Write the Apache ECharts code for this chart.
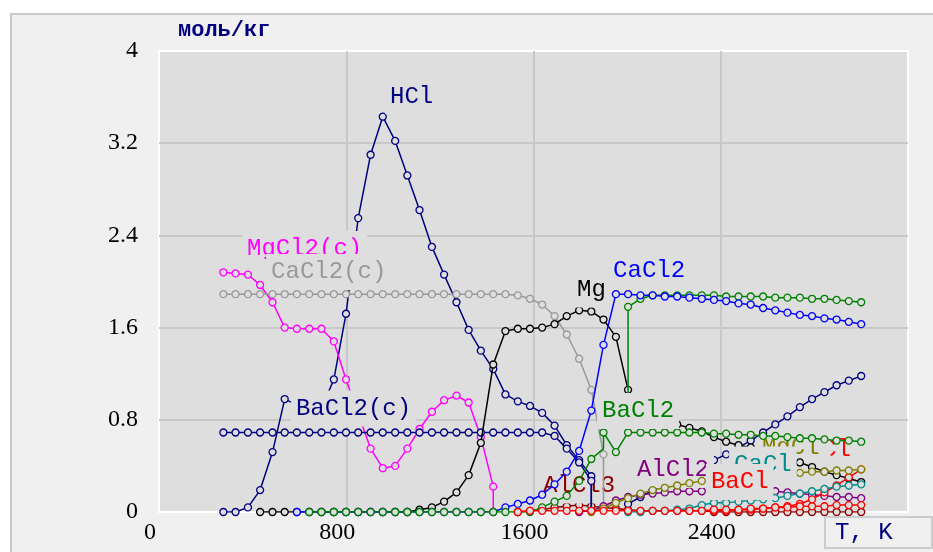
<!DOCTYPE html>
<html><head><meta charset="utf-8">
<script src="https://cdn.jsdelivr.net/npm/echarts@6/dist/echarts.min.js"></script>
<style>
html,body{margin:0;padding:0;background:#fff;}
#panel{position:absolute;left:10px;top:13px;width:921px;height:537px;background:#f0f0f0;border-top:2px solid #c8c8c8;border-left:2px solid #c8c8c8;}
#chart{position:absolute;left:0;top:0;width:933px;height:552px;}
</style></head><body>
<div id="panel"></div><div id="chart"></div>
<script>
const _ = null;
// Temperatures, K
const T = [275,327,380,432,485,537,589,642,694,747,799,851,904,956,1009,1061,1113,1166,1218,1271,1323,1375,1428,1480,1533,1585,1637,1690,1742,1795,1847,1899,1952,2004,2057,2109,2161,2214,2266,2319,2371,2423,2476,2528,2581,2633,2685,2738,2790,2843,2895,2947,3000];
// mol/kg
const HCl = [0,0,0.04,0.19,0.52,0.98,0.93,0.9,0.9,1.15, 1.72,2.55,3.1,3.43,3.22,2.92,2.62,2.3,2.06,1.82, 1.58,1.4,1.24,1.02,0.96,0.92,0.86,0.75,0.58,0.45, 0.31,_,_,0.07,0.13,0.19,0.25,0.3,0.35,0.4, 0.45,0.5,0.56,0.62,0.69,0.76,0.83,0.91,0.98,1.04, 1.1,1.14,1.18];
const MgCl2c = [2.08,2.07,2.06,1.97,1.82,1.6,1.59,1.59,1.59,1.48, 1.15,0.85,0.55,0.38,0.4,0.55,0.72,0.87,0.97,1.01, 0.95,0.65,0.22,_,_,_,_,_,_,_, _,_,_,_,_,_,_,_,_,_, _,_,_,_,_,_,_,_,_,_, _,_,_];
const CaCl2c = [1.89,1.89,1.89,1.89,1.89,1.89,1.89,1.89,1.89,1.89, 1.89,1.89,1.89,1.89,1.89,1.89,1.89,1.89,1.89,1.89, 1.89,1.89,1.89,1.89,1.88,1.85,1.8,1.7,1.54,1.33, 1.06,0.5,_,_,_,_,_,_,_,_, _,_,_,_,_,_,_,_,_,_, _,_,_];
const BaCl2c = [0.69,0.69,0.69,0.69,0.69,0.69,0.69,0.69,0.69,0.69, 0.69,0.69,0.69,0.69,0.69,0.69,0.69,0.69,0.69,0.69, 0.69,0.69,0.69,0.69,0.69,0.69,0.69,0.66,0.55,0.43, 0.27,_,_,_,_,_,_,_,_,_, _,_,_,_,_,_,_,_,_,_, _,_,_];
const Mg = [_,_,_,0,0,0,0,0,0,0, 0,0,0,0,0,0,0.02,0.04,0.09,0.17, 0.32,0.6,1.28,1.57,1.59,1.59,1.6,1.63,1.7,1.75, 1.74,1.67,1.52,1.06,0.9,0.83,0.79,0.76,0.73,0.7, 0.65,0.61,0.58,0.56,0.53,0.5,0.47,0.43,0.39,0.35, 0.32,0.29,0.26];
const GreenUp = [_,_,_,_,_,_,_,_,_,_, _,_,_,_,_,_,_,_,_,_, _,_,_,_,_,_,_,_,_,_, _,_,_,1.78,1.85,1.88,1.88,1.88,1.88,1.88, 1.88,1.87,1.87,1.87,1.87,1.86,1.86,1.86,1.85,1.85, 1.84,1.83,1.82];
const CaCl2 = [_,_,_,_,_,_,0,0,0,0, 0,0,0,0,0,0,0,0,0,0, 0,0,0,0.04,0.07,0.1,0.15,0.24,0.35,0.53, 0.88,1.45,1.89,1.89,1.88,1.88,1.87,1.87,1.86,1.85, 1.84,1.83,1.81,1.8,1.77,1.75,1.73,1.71,1.7,1.68, 1.67,1.65,1.63];
const BaCl2 = [_,_,_,_,_,_,_,0,0,0, 0,0,0,0,0,0,0,0,0,0, 0,0,0,0,0,0,0.04,0.09,0.14,0.27, 0.46,0.69,0.52,0.69,0.69,0.69,0.69,0.69,0.69,0.69, 0.68,0.68,0.67,0.67,0.66,0.66,0.65,0.64,0.64,0.63, 0.62,0.62,0.61];
const AlCl3 = [_,_,_,_,_,_,_,_,_,_, _,_,_,_,_,_,_,_,_,_, _,_,_,_,0,0.01,0.02,0.04,0.05,0.06, 0.05,0.04,0.03,0.02,0.01,0.01,0.01,0.01,0.01,0.01, 0,0,0,0,0,0,0,0,0,0, 0,0,0];
const AlCl2 = [_,_,_,_,_,_,_,_,_,_, _,_,_,_,_,_,_,_,_,_, _,_,_,_,_,_,_,_,_,0, 0.01,0.05,0.1,0.13,0.15,0.16,0.17,0.18,0.18,0.18, 0.18,0.18,0.18,0.18,0.18,0.18,0.17,0.16,0.15,0.14, 0.13,0.13,0.12];
const Cl = [_,_,_,_,_,_,_,_,_,_, _,_,_,_,_,_,_,_,_,_, _,_,_,_,_,_,_,_,_,_, _,_,_,_,_,_,_,_,_,_, 0.01,0.01,0.02,0.02,0.03,0.04,0.05,0.07,0.11,0.17, 0.23,0.3,0.37];
const MgCl = [_,_,_,_,_,_,_,_,_,_, _,_,_,_,_,_,_,_,_,_, _,_,_,_,_,_,_,_,_,_, 0,0.03,0.08,0.12,0.16,0.19,0.21,0.23,0.25,0.27, 0.28,0.29,0.3,0.31,0.32,0.33,0.33,0.34,0.35,0.35, 0.36,0.36,0.37];
const CaCl = [_,_,_,_,_,_,_,_,_,_, _,_,_,_,_,_,_,_,_,_, _,_,_,_,_,_,_,_,_,_, _,_,_,0,0,0.01,0.01,0.02,0.03,0.06, 0.08,0.08,0.09,0.1,0.11,0.12,0.14,0.16,0.18,0.2, 0.22,0.23,0.24];
const BaCl = [_,_,_,_,_,_,_,_,_,_, _,_,_,_,_,_,_,_,_,_, _,_,_,_,0,0.01,0.01,0.01,0.01,0.01, 0.01,0.01,0.01,0.01,0.01,0.01,0.01,0.01,0.01,0.01, 0.02,0.02,0.02,0.03,0.03,0.04,0.04,0.05,0.05,0.05, 0.06,0.06,0.06];

// axis ticks
const xTicks = [0,800,1600,2400,3200];
const yTicks = [0,0.8,1.6,2.4,3.2,4];

// curve labels: text, anchor T, anchor value (left edge / middle of the text)
const labelText = ['HCl','MgCl2(c)','CaCl2(c)','BaCl2(c)','Mg','CaCl2','BaCl2','AlCl3','AlCl2','MgCl','CaCl','BaCl','Cl'];
const labelT    = [987,376,479,585,1786,1940,1893,1641,2042,2576,2457,2358,2833];
const labelV    = [3.59,2.265,2.065,0.881,1.913,2.078,0.859,0.213,0.347,0.538,0.395,0.243,0.525];

const defs = [
  {name:'AlCl3', vals:AlCl3, color:'#8b0000'},
  {name:'HCl', vals:HCl, color:'#000080', drop:{30:0}},
  {name:'MgCl2(c)', vals:MgCl2c, color:'#ff00ff', drop:{22:0}},
  {name:'CaCl2(c)', vals:CaCl2c, color:'#999999', drop:{31:0.07}},
  {name:'BaCl2(c)', vals:BaCl2c, color:'#000080', drop:{30:0}},
  {name:'Mg', vals:Mg, color:'#000000'},
  {name:'BaCl2 up', vals:GreenUp, color:'#008000', rise:{33:1.02}},
  {name:'CaCl2', vals:CaCl2, color:'#0000ff'},
  {name:'BaCl2', vals:BaCl2, color:'#008000', rise:{31:0.55}},
  {name:'AlCl2', vals:AlCl2, color:'#800080'},
  {name:'Cl', vals:Cl, color:'#ff0000'},
  {name:'MgCl', vals:MgCl, color:'#808000'},
  {name:'CaCl', vals:CaCl, color:'#008b8b'},
  {name:'BaCl', vals:BaCl, color:'#ff0000'}
];

function build(d){
  const out = [];
  for (let i = 0; i < T.length; i++) {
    const v = d.vals[i];
    if (v === null || v === undefined) { out.push([T[i], '-']); continue; }
    if (d.rise && d.rise[i] !== undefined) out.push({value:[T[i], d.rise[i]], symbol:'none'});
    out.push([T[i], v]);
    if (d.drop && d.drop[i] !== undefined) out.push({value:[T[i], d.drop[i]], symbol:'none'});
  }
  return out;
}

const BG = '#dedede';
const series = defs.map((d, k) => ({
  name: d.name, type:'line', z: 10 + 10*k,
  data: build(d),
  symbol:'circle', symbolSize:7, showAllSymbol:true,
  lineStyle:{color:d.color, width:1.5},
  itemStyle:{color:BG, borderColor:d.color, borderWidth:1.3},
  emphasis:{disabled:true}, silent:true, connectNulls:false
}));

const fmtY = v => (Math.round(v*10)/10).toString();

const chart = echarts.init(document.getElementById('chart'), null, {renderer:'canvas'});
chart.setOption({
  animation:false,
  backgroundColor:'transparent',
  grid:{left:159, right:25, top:51, bottom:40, show:true, backgroundColor:BG, borderColor:'#ffffff', borderWidth:2, outerBoundsMode:'none', containLabel:false},
  xAxis:{type:'value', min:xTicks[0], max:xTicks[xTicks.length-1], interval:800,
    axisLine:{show:false}, axisTick:{show:false},
    splitLine:{show:true, showMinLine:false, showMaxLine:false, lineStyle:{color:'#c8c8c8', width:2}},
    axisLabel:{formatter: v => (xTicks.indexOf(v) >= 0 && v !== 3200) ? String(v) : '', fontFamily:'Liberation Serif', fontSize:24, color:'#000', margin:9, padding:[0,18,0,0], lineHeight:24}
  },
  yAxis:{type:'value', min:yTicks[0], max:yTicks[yTicks.length-1], interval:0.8,
    axisLine:{show:false}, axisTick:{show:false},
    splitLine:{show:true, showMinLine:false, showMaxLine:false, lineStyle:{color:'#c8c8c8', width:2}},
    axisLabel:{formatter: fmtY, fontFamily:'Liberation Serif', fontSize:24, color:'#000', margin:21, padding:[0,0,14,0]}
  },
  series: series
});

const zOf = {};
defs.forEach((d,k) => { zOf[d.name] = 10 + 10*k; });
const colorOf = {};
defs.forEach(d => { colorOf[d.name] = d.color; });
// labels drawn early (under later curves)
const earlyZ = {'Cl':12, 'MgCl':14};

const graphics = [];
labelText.forEach((t, i) => {
  const p = chart.convertToPixel({gridIndex:0}, [labelT[i], labelV[i]]);
  const boxed = t !== 'Cl';
  const padR = t === 'MgCl' ? 11 : 5;
  graphics.push({
    type:'text', x: p[0] - 5, y: p[1] - 2, z: earlyZ[t] !== undefined ? earlyZ[t] : zOf[t] + 5, silent:true,
    style:{text:t, fill:colorOf[t], font:'24px "Liberation Mono"',
      align:'left', verticalAlign:'middle', textAlign:'left', textVerticalAlign:'middle',
      backgroundColor: boxed ? BG : 'transparent', padding:[12,padR,8,5], lineHeight:16}
  });
});
// unit label and axis name box
graphics.push({type:'text', x:178, y:30, z:300, silent:true,
  style:{text:'моль/кг', fill:'#000080', font:'bold 22px "Liberation Mono"', align:'left', verticalAlign:'middle', textAlign:'left', textVerticalAlign:'middle'}});
graphics.push({type:'rect', z:300, silent:true, shape:{x:825, y:517, width:107, height:31},
  style:{fill:'#f0f0f0', stroke:'#cccccc', lineWidth:2}});
graphics.push({type:'text', x:835, y:533, z:301, silent:true,
  style:{text:'T, K', fill:'#000080', font:'24px "Liberation Mono"', align:'left', verticalAlign:'middle', textAlign:'left', textVerticalAlign:'middle'}});
chart.setOption({graphic: graphics});
</script>
</body></html>
